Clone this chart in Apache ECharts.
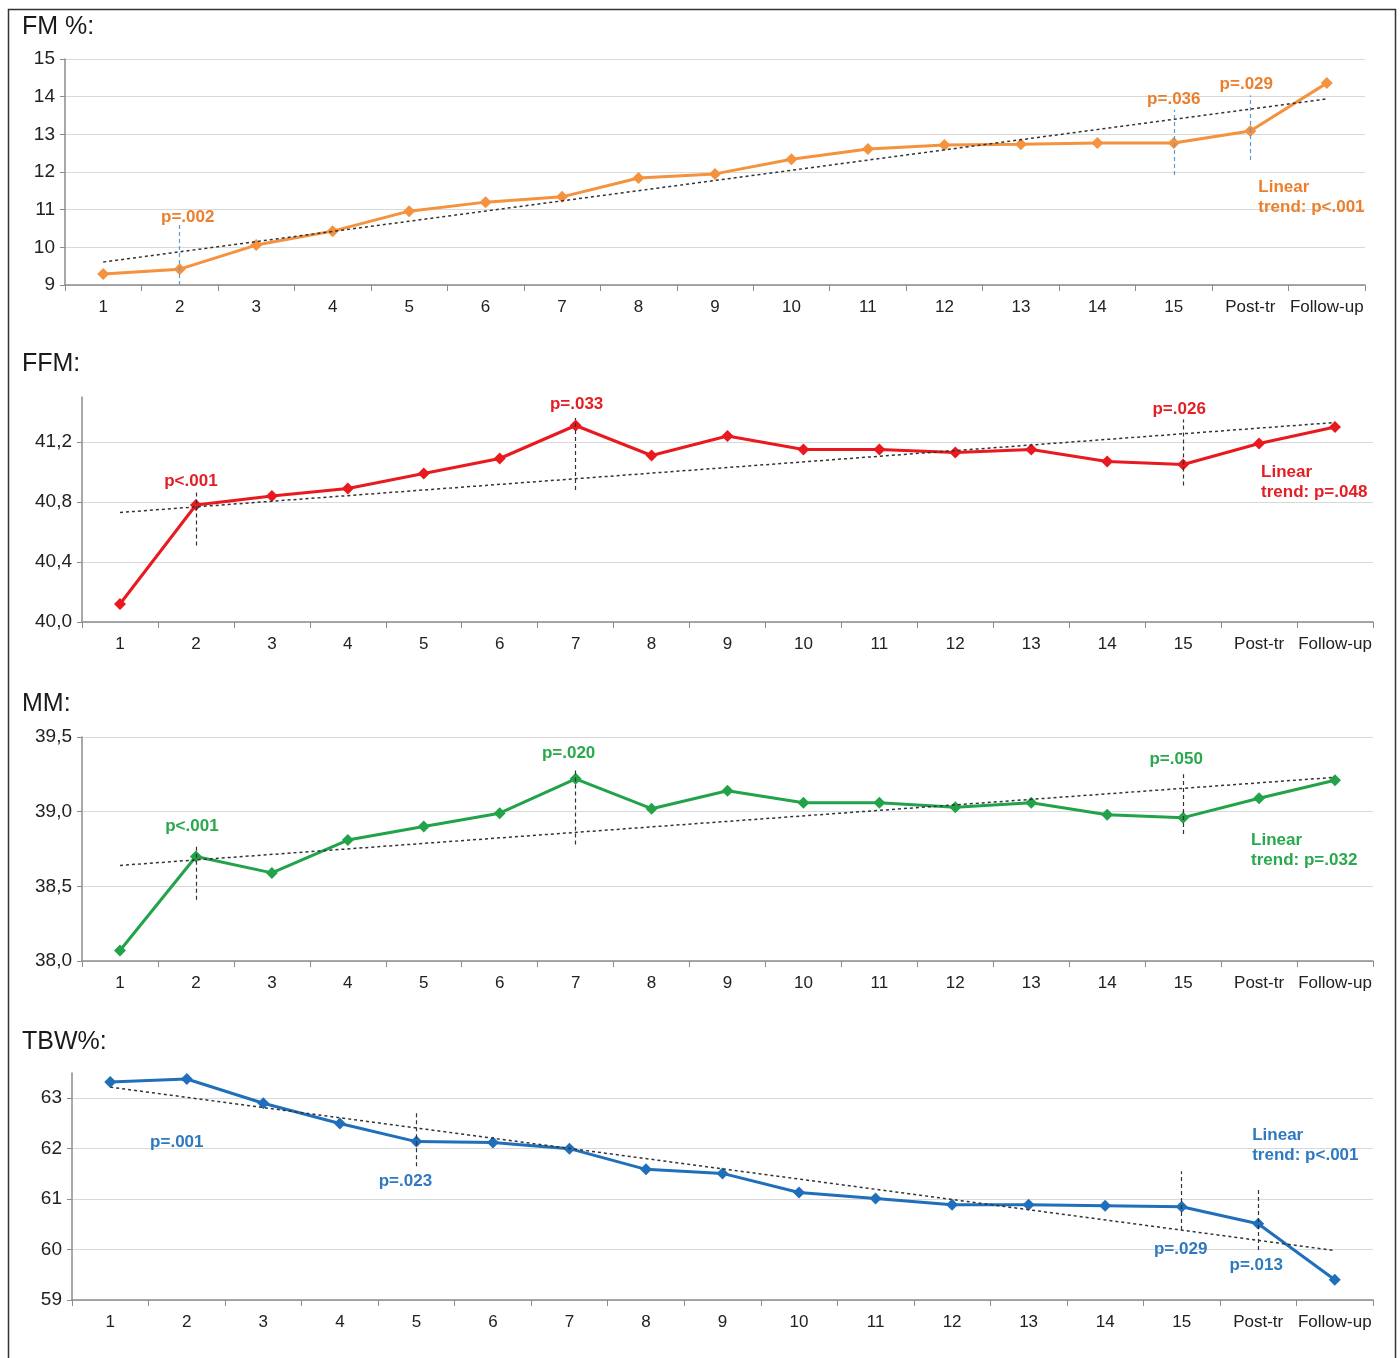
<!DOCTYPE html>
<html>
<head>
<meta charset="utf-8">
<script src="https://cdn.jsdelivr.net/npm/echarts@6/dist/echarts.min.js"></script>
<style>
  html, body { margin: 0; padding: 0; background: #fff; }
  #main { width: 1400px; height: 1358px; }
</style>
</head>
<body>
<div id="main"></div>
<script>
// sessions on the x axis
const sessions = ['1', '2', '3', '4', '5', '6', '7', '8', '9', '10', '11', '12', '13', '14', '15', 'Post-tr', 'Follow-up']

// values
const fmValues = [9.29, 9.42, 10.06, 10.43, 10.96, 11.2, 11.34, 11.84, 11.95, 12.34, 12.61, 12.72, 12.74, 12.77, 12.77, 13.09, 14.36]
const ffmValues = [40.12, 40.78, 40.84, 40.89, 40.99, 41.09, 41.31, 41.11, 41.24, 41.15, 41.15, 41.13, 41.15, 41.07, 41.05, 41.19, 41.3]
const mmValues = [38.07, 38.7, 38.59, 38.81, 38.9, 38.99, 39.22, 39.02, 39.14, 39.06, 39.06, 39.03, 39.06, 38.98, 38.96, 39.09, 39.21]
const tbwValues = [63.32, 63.38, 62.9, 62.5, 62.14, 62.12, 62.0, 61.59, 61.51, 61.13, 61.01, 60.89, 60.89, 60.87, 60.85, 60.51, 59.4]

// linear trend end points (first session, follow-up)
const fmTrend = [9.61, 13.94]
const ffmTrend = [40.73, 41.33]
const mmTrend = [38.64, 39.23]
const tbwTrend = [63.22, 59.98]

// significance markers: [session, from, to]
const fmMarks = [['2', 9, 10.67], ['15', 11.92, 13.65], ['Post-tr', 12.32, 14.04]]
const ffmMarks = [['2', 40.51, 40.88], ['7', 40.88, 41.36], ['15', 40.91, 41.35]]
const mmMarks = [['2', 38.41, 38.78], ['7', 38.78, 39.28], ['15', 38.85, 39.25]]
const tbwMarks = [['2', 62.54, 63.68], ['5', 61.65, 62.7], ['15', 60.39, 61.55], ['Post-tr', 59.99, 61.19]]

// p-value labels: [text, session, value, x offset]
const fmNotes = [['p=.002', '2', 10.81, 8], ['p=.036', '15', 13.94, 0], ['p=.029', 'Post-tr', 14.34, -4]]
const ffmNotes = [['p<.001', '2', 40.94, -5], ['p=.033', '7', 41.45, 1], ['p=.026', '15', 41.42, -4]]
const mmNotes = [['p<.001', '2', 38.9, -4], ['p=.020', '7', 39.39, -7], ['p=.050', '15', 39.35, -7]]
const tbwNotes = [['p=.001', '2', 62.12, -10], ['p=.023', '5', 61.35, -11], ['p=.029', '15', 60.01, -1], ['p=.013', 'Post-tr', 59.68, -2]]

// linear trend note: [text, value, x offset from Post-tr]
const fmTrendNote = ['Linear\ntrend: p<.001', 11.34, 8]
const ffmTrendNote = ['Linear\ntrend: p=.048', 40.93, 2]
const mmTrendNote = ['Linear\ntrend: p=.032', 38.74, -8]
const tbwTrendNote = ['Linear\ntrend: p<.001', 62.06, -6]

const FONT = '"Liberation Sans", Arial, sans-serif'

const panels = [
  { title: 'FM %:', titleTop: 10, grid: { left: 65, top: 59, width: 1300, height: 226 },
    min: 9, max: 15, interval: 1, fmt: v => String(v), hideMax: false,
    values: fmValues, trend: fmTrend, marks: fmMarks, notes: fmNotes, trendNote: fmTrendNote,
    color: '#f5923e', text: '#ec7f2c', markColor: '#5b9bd5' },
  { title: 'FFM:', titleTop: 347, grid: { left: 82, top: 397, width: 1291, height: 225 },
    min: 40, max: 41.5, interval: 0.4, fmt: v => v.toFixed(1).replace('.', ','), hideMax: true,
    values: ffmValues, trend: ffmTrend, marks: ffmMarks, notes: ffmNotes, trendNote: ffmTrendNote,
    color: '#e8191f', text: '#e31e24', markColor: '#333' },
  { title: 'MM:', titleTop: 687, grid: { left: 82, top: 737, width: 1291, height: 224 },
    min: 38, max: 39.5, interval: 0.5, fmt: v => v.toFixed(1).replace('.', ','), hideMax: false,
    values: mmValues, trend: mmTrend, marks: mmMarks, notes: mmNotes, trendNote: mmTrendNote,
    color: '#22a34a', text: '#2aa84c', markColor: '#333' },
  { title: 'TBW%:', titleTop: 1025, grid: { left: 72, top: 1073, width: 1301, height: 227 },
    min: 59, max: 63.5, interval: 1, fmt: v => String(v), hideMax: true,
    values: tbwValues, trend: tbwTrend, marks: tbwMarks, notes: tbwNotes, trendNote: tbwTrendNote,
    color: '#1f6fba', text: '#2e79c0', markColor: '#333' }
]

const chart = echarts.init(document.getElementById('main'))

const option = {
  animation: false,
  backgroundColor: '#fff',
  textStyle: { fontFamily: FONT },
  title: [],
  grid: [],
  xAxis: [],
  yAxis: [],
  series: [],
  graphic: [
    {
      type: 'rect',
      shape: { x: 8.5, y: 9.5, width: 1387, height: 1380 },
      style: { fill: 'none', stroke: '#333', lineWidth: 1.5 },
      silent: true
    }
  ]
}

panels.forEach((p, i) => {
  option.title.push({
    text: p.title,
    left: 17,
    top: p.titleTop,
    textStyle: { fontFamily: FONT, fontSize: 25, fontWeight: 'normal', color: '#1a1a1a' }
  })
  option.grid.push(Object.assign({ containLabel: false }, p.grid))
  option.xAxis.push({
    type: 'category',
    gridIndex: i,
    data: sessions,
    boundaryGap: true,
    axisLine: { lineStyle: { color: '#8c8c8c', width: 1.5 } },
    axisTick: { show: true, length: 6, lineStyle: { color: '#8c8c8c' } },
    axisLabel: { interval: 0, color: '#222', fontSize: 17, fontFamily: FONT, margin: 14 },
    splitLine: { show: false }
  })
  option.yAxis.push({
    type: 'value',
    gridIndex: i,
    min: p.min,
    max: p.max,
    interval: p.interval,
    axisLine: { show: true, lineStyle: { color: '#8c8c8c', width: 1.5 } },
    axisTick: { show: true, length: 5, lineStyle: { color: '#8c8c8c' } },
    axisLabel: {
      color: '#222', fontSize: 19, fontFamily: FONT, margin: 10,
      showMaxLabel: !p.hideMax,
      formatter: v => (p.hideMax && Math.abs(v - p.max) < 1e-6) ? '' : p.fmt(v)
    },
    splitLine: { show: true, showMaxLine: !p.hideMax, lineStyle: { color: '#d9d9d9', width: 1.2 } }
  })

  const trendStyle = { color: '#333', width: 1.5, type: [3, 3] }
  const markStyle = { color: p.markColor, width: 1.2, type: [4, 3] }
  const lines = [
    [
      { coord: [sessions[0], p.trend[0]], lineStyle: trendStyle },
      { coord: [sessions[sessions.length - 1], p.trend[1]], lineStyle: trendStyle }
    ]
  ]
  p.marks.forEach(m => {
    lines.push([
      { coord: [m[0], m[1]], lineStyle: markStyle },
      { coord: [m[0], m[2]], lineStyle: markStyle }
    ])
  })

  const noteLabel = { fontFamily: FONT, fontSize: 17, fontWeight: 'bold', color: p.text }
  const points = p.notes.map(n => ({
    coord: [n[1], n[2]],
    symbolSize: 0,
    label: Object.assign({ show: true, position: 'inside', formatter: n[0], offset: [n[3], 0] }, noteLabel)
  }))
  points.push({
    coord: ['Post-tr', p.trendNote[1]],
    symbolSize: 0,
    label: Object.assign({
      show: true, position: 'inside', align: 'left', verticalAlign: 'middle',
      lineHeight: 20, formatter: p.trendNote[0], offset: [p.trendNote[2], 0]
    }, noteLabel)
  })

  option.series.push({
    type: 'line',
    xAxisIndex: i,
    yAxisIndex: i,
    data: p.values,
    clip: false,
    symbol: 'diamond',
    symbolSize: 12,
    showAllSymbol: true,
    lineStyle: { color: p.color, width: 3 },
    itemStyle: { color: p.color },
    z: 3,
    markLine: {
      silent: true,
      symbol: ['none', 'none'],
      label: { show: false },
      animation: false,
      data: lines
    },
    markPoint: {
      silent: true,
      symbol: 'circle',
      symbolSize: 0,
      itemStyle: { color: 'transparent' },
      animation: false,
      data: points
    }
  })
})

chart.setOption(option)
</script>
</body>
</html>
